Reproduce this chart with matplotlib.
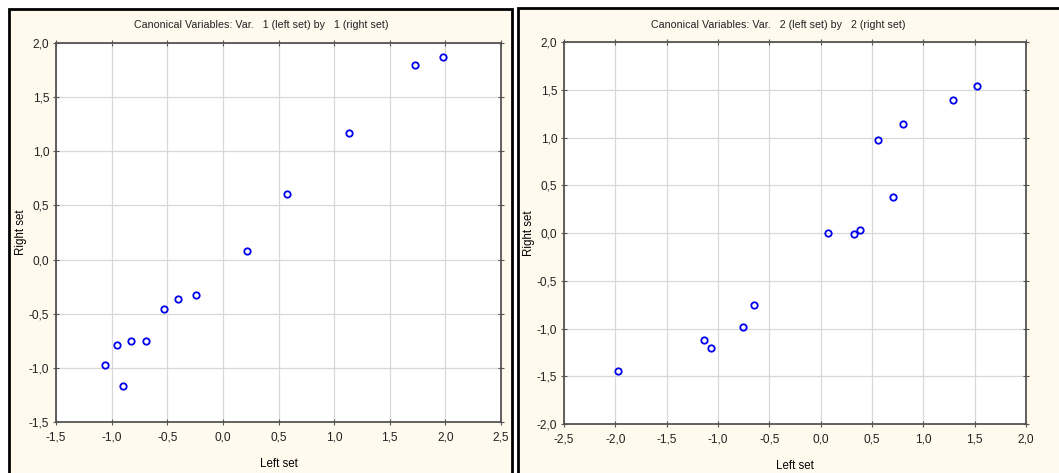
import matplotlib.pyplot as plt
import matplotlib.patches as mpatches
from matplotlib.ticker import FuncFormatter, MultipleLocator

plt.rcParams["font.family"] = ["Liberation Sans", "DejaVu Sans"]

# canonical variable 1
left1 = [1.73, 1.98, 1.13, 0.58, 0.22, -0.245, -0.405, -0.525, -0.695, -0.823, -0.952, -1.057, -0.898]
right1 = [1.80, 1.87, 1.165, 0.61, 0.08, -0.33, -0.36, -0.46, -0.755, -0.755, -0.785, -0.975, -1.17]

# canonical variable 2
left2 = [1.52, 1.285, 0.805, 0.555, 0.705, 0.075, 0.32, 0.38, -0.65, -0.755, -1.14, -1.07, -1.97]
right2 = [1.535, 1.395, 1.14, 0.97, 0.375, 0.0, -0.015, 0.03, -0.755, -0.98, -1.125, -1.205, -1.44]

titles = [
    "Canonical Variables: Var.   1 (left set) by   1 (right set)",
    "Canonical Variables: Var.   2 (left set) by   2 (right set)",
]

W, H = 1059, 473
fig = plt.figure(figsize=(W / 100, H / 100), dpi=100)
fig.patch.set_facecolor("white")

panel_bg = "#FFF9EE"
# panel frames (pixel coords -> figure fractions)
for x0, x1, ytop in [(8.5, 512, 9), (517.5, 1065, 8)]:
    fig.patches.append(mpatches.Rectangle(
        (x0 / W, -0.05), (x1 - x0) / W, 0.05 + 1 - ytop / H,
        transform=fig.transFigure, facecolor=panel_bg, edgecolor="black",
        linewidth=2.0, zorder=-5))

comma = FuncFormatter(lambda v, p: f"{v:.1f}".replace(".", ","))


def setup(ax, xs, ys, xlim, ylim, title, title_x):
    ax.set_facecolor("white")
    ax.plot(xs, ys, "o", ms=4.6, mfc="none", mec="#0000EE", mew=1.3, zorder=3, clip_on=False)
    ax.set_xlim(*xlim)
    ax.set_ylim(*ylim)
    ax.xaxis.set_major_locator(MultipleLocator(0.5))
    ax.yaxis.set_major_locator(MultipleLocator(0.5))
    ax.xaxis.set_major_formatter(comma)
    ax.yaxis.set_major_formatter(comma)
    ax.grid(True, color="#D8D8D8", linewidth=0.9)
    ax.set_axisbelow(True)
    for s in ax.spines.values():
        s.set_color("#555555")
        s.set_linewidth(1.3)
    ax.tick_params(axis="both", which="both", direction="inout", length=4, width=0.8,
                   color="#555555", labelsize=8.6, labelcolor="#222222",
                   top=True, right=True, pad=3)
    ax.tick_params(axis="x", pad=5)
    ax.set_xlabel("Left set", fontsize=8.3, labelpad=10)
    ax.set_ylabel("Right set", fontsize=8.3, labelpad=1)
    fig.text(title_x, 1 - 25 / H, title, ha="center", va="center", fontsize=7.7, color="#222222")


ax1 = fig.add_axes([56 / W, 1 - 422 / H, 445 / W, 379 / H])
setup(ax1, left1, right1, (-1.5, 2.5), (-1.5, 2.0), titles[0], 261 / W)

ax2 = fig.add_axes([564 / W, 1 - 424 / H, 462 / W, 382 / H])
setup(ax2, left2, right2, (-2.5, 2.0), (-2.0, 2.0), titles[1], 778 / W)

fig.savefig("out.png", dpi=100)
